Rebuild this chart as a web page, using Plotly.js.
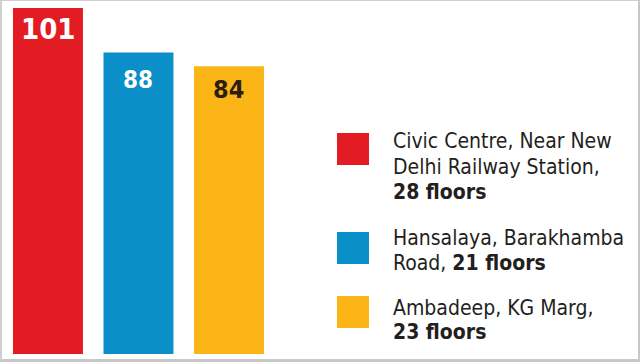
<!DOCTYPE html>
<html>
<head>
<meta charset="utf-8">
<script src="https://cdn.plot.ly/plotly-3.0.1.min.js"></script>
<style>
  html, body { margin: 0; padding: 0; background: #ffffff; }
  #wrap { position: relative; width: 640px; height: 362px; overflow: hidden; }
  #chart { width: 640px; height: 362px; }
  #frame { position: absolute; left: 0; top: 0; width: 640px; height: 362px; box-sizing: border-box;
           border-top: 1px solid #cfcfcf; border-left: 2px solid #cfcfcf; border-right: 2px solid #c8c8c8; border-bottom: 3px solid #c8c8c8; pointer-events: none; }
</style>
</head>
<body>
<div id="wrap"><div id="chart"></div><div id="frame"></div></div>
<script>
// ---- data ----
const buildings = ["Civic Centre", "Hansalaya", "Ambadeep"];
const heights = [101, 88, 84];
const legendLines = [
  ["Civic Centre, Near New", "Delhi Railway Station,", "<b>28 floors</b>"],
  ["Hansalaya, Barakhamba", "Road, <b>21 floors</b>"],
  ["Ambadeep, KG Marg,", "<b>23 floors</b>"]
];

// ---- styles ----
const colors = ["#e31b23", "#0b8fc9", "#fbb517"];
const labelColors = ["#ffffff", "#ffffff", "#2b1f12"];
const labelSizes = [29, 24, 25];
const labelShift = [-21, -27, -23];
const FONT = "'DejaVu Sans Condensed', 'Liberation Sans Narrow', 'Roboto', sans-serif";
const TXT = "#231f20";

const W = 640, H = 362, MB = 8, PH = H - MB;
const px = x => x / W;
const py = y => (PH - y) / PH;

const squareTops = [133, 232, 296];
const lineCenters = [[141, 167, 192], [238, 263], [308, 332]];

const shapes = [];
const annotations = [];

heights.forEach((v, i) => {
  annotations.push({
    x: buildings[i], y: v, xref: 'x', yref: 'y',
    text: String(v), showarrow: false, yanchor: 'middle', xanchor: 'center', yshift: labelShift[i],
    font: { family: FONT, size: labelSizes[i], color: labelColors[i], weight: 'bold' }
  });
});

legendLines.forEach((lines, i) => {
  shapes.push({
    type: 'rect', xref: 'paper', yref: 'paper',
    x0: px(337), x1: px(369), y0: py(squareTops[i] + 32), y1: py(squareTops[i]),
    fillcolor: colors[i], line: { width: 0 }
  });
  lines.forEach((t, j) => {
    annotations.push({
      xref: 'paper', yref: 'paper', x: px(391), y: py(lineCenters[i][j]),
      xanchor: 'left', yanchor: 'middle', showarrow: false, text: t,
      font: { family: FONT, size: 21, color: TXT }
    });
  });
});

const trace = {
  type: 'bar', x: buildings, y: heights,
  marker: { color: colors, line: { width: 0 } },
  width: 0.773, hoverinfo: 'none', showlegend: false
};

const layout = {
  width: W, height: H,
  margin: { l: 0, r: 0, t: 0, b: MB, pad: 0 },
  paper_bgcolor: '#ffffff', plot_bgcolor: '#ffffff',
  xaxis: { type: 'category', range: [-0.530, 6.541], showgrid: false, zeroline: false, showline: false, showticklabels: false, ticks: '', fixedrange: true },
  yaxis: { range: [0, 103.34], showgrid: false, zeroline: false, showline: false, showticklabels: false, ticks: '', fixedrange: true },
  shapes: shapes,
  annotations: annotations,
  showlegend: false
};

Plotly.newPlot('chart', [trace], layout, { displayModeBar: false, staticPlot: true });
</script>
</body>
</html>
